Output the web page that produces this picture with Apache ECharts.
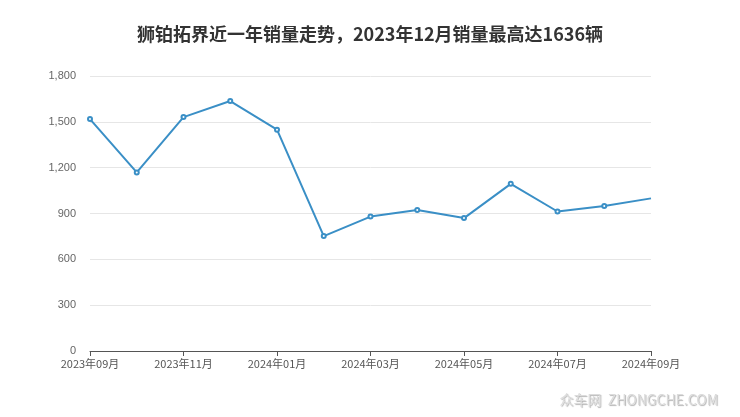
<!DOCTYPE html>
<html><head><meta charset="utf-8">
<script src="https://cdn.jsdelivr.net/npm/echarts@6/dist/echarts.min.js"></script>
<style>html,body{margin:0;padding:0;background:#fff}#c{width:740px;height:417px}</style>
</head><body><div id="c"></div>
<script>
const titleText = '狮铂拓界近一年销量走势，2023年12月销量最高达1636辆';
const months = ['2023年09月','2023年10月','2023年11月','2023年12月','2024年01月','2024年02月','2024年03月','2024年04月','2024年05月','2024年06月','2024年07月','2024年08月','2024年09月'];
const sales = [1518, 1169, 1531, 1636, 1449, 752, 880, 923, 870, 1094, 913, 949, 999];
const yTicks = {min: 0, max: 1800, interval: 300};

const seriesData = sales.map((v, i) => i === sales.length - 1 ? {value: v, symbol: 'none'} : v);

const chart = echarts.init(document.getElementById('c'));
chart.setOption({
  animation: false,
  backgroundColor: '#fff',
  title: {
    text: titleText, left: 'center', top: 20,
    textStyle: {fontSize: 18, fontWeight: 'bold', color: '#333', fontFamily: 'Noto Sans CJK SC'}
  },
  grid: {left: 90, right: 89, top: 76, bottom: 66},
  xAxis: {
    type: 'category', data: months, boundaryGap: false,
    axisLine: {lineStyle: {color: '#555'}},
    axisTick: {interval: 1, lineStyle: {color: '#555'}},
    axisLabel: {interval: 1, color: '#555', fontSize: 11, margin: 7, fontFamily: 'Noto Sans CJK SC'},
    splitLine: {show: false}
  },
  yAxis: {
    type: 'value', min: yTicks.min, max: yTicks.max, interval: yTicks.interval,
    axisLine: {show: false}, axisTick: {show: false},
    axisLabel: {color: '#666', fontSize: 11, margin: 14,
      formatter: v => v.toLocaleString('en-US')},
    splitLine: {lineStyle: {color: '#e6e6e6'}}
  },
  series: [{
    type: 'line', data: seriesData,
    symbol: 'emptyCircle', symbolSize: 4,
    lineStyle: {color: '#3a8fc6', width: 2},
    itemStyle: {color: '#3a8fc6', borderWidth: 1.5}
  }],
  graphic: [{
    type: 'text', right: 22, bottom: 10,
    style: {text: '众车网  ZHONGCHE.COM', fill: '#dcdcdc', font: '14px "Noto Sans CJK SC"',
      textShadowColor: 'rgba(0,0,0,0.3)', textShadowBlur: 1, textShadowOffsetX: 1, textShadowOffsetY: 1}
  }]
});
</script></body></html>
